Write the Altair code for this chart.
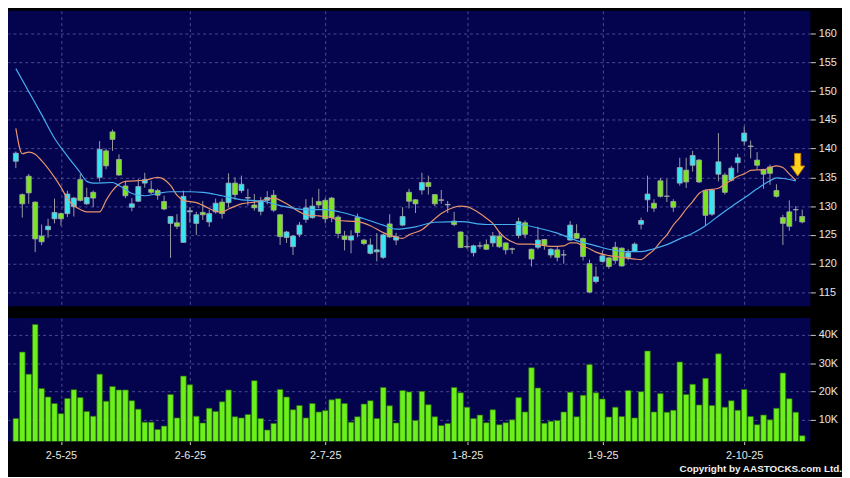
import altair as alt
import pandas as pd

# ---------------- data ----------------
opens = [137.8, 132.0, 135.2, 130.7, 124.8, 125.9, 127.8, 128.7, 128.7, 129.9,
         134.6, 130.4, 132.4, 135.0, 139.6, 142.9, 138.1, 133.5, 129.8, 130.85,
         134.0, 132.9, 132.7, 130.8, 127.0, 127.1, 123.7, 129.0, 127.0, 128.9,
         127.25, 129.0, 130.7, 130.6, 134.0, 132.7, 131.5, 130.2, 129.1, 131.0,
         131.9, 128.5, 124.55, 122.95, 125.1, 127.7, 128.0, 130.8, 131.0, 131.4,
         128.1, 124.8, 124.1, 128.0, 124.1, 121.8, 122.05, 121.1, 126.9, 124.1,
         126.7, 132.4, 131.1, 132.8, 134.1, 132.0, 131.1, 130.3, 127.4, 125.5,
         123.0, 121.9, 123.05, 123.3, 123.6, 124.8, 123.6, 122.6, 124.9, 127.1,
         122.5, 122.85, 124.2, 121.5, 122.4, 121.55, 124.1, 125.25, 124.4, 120.0,
         116.9, 120.4, 121.0, 122.85, 122.7, 121.1, 122.1, 126.85, 131.1, 130.5,
         134.4, 131.7, 130.8, 134.0, 136.25, 137.1, 138.0, 132.7, 128.6, 135.55,
         135.4, 134.5, 137.55, 141.3, 140.45, 138.0, 136.35, 136.8, 132.7, 128.0,
         129.0, 129.4, 128.2]
highs = [139.5, 132.2, 135.6, 130.8, 126.8, 127.8, 131.3, 128.9, 132.7, 131.6,
         135.6, 133.2, 132.7, 141.3, 140.0, 143.3, 139.0, 134.4, 131.4, 134.7,
         135.8, 134.4, 133.0, 131.8, 128.3, 128.6, 132.7, 129.8, 129.0, 130.9,
         129.4, 131.3, 131.3, 135.7, 135.0, 135.3, 133.0, 132.1, 131.6, 132.6,
         132.8, 128.6, 125.7, 125.0, 127.25, 131.2, 131.5, 133.0, 131.4, 131.6,
         128.4, 125.7, 125.8, 128.7, 124.3, 124.4, 125.3, 125.2, 128.6, 125.35,
         129.8, 133.0, 131.2, 135.8, 135.3, 132.1, 132.8, 130.9, 129.0, 125.6,
         125.0, 123.3, 123.8, 124.2, 125.5, 125.5, 123.7, 122.8, 128.0, 127.5,
         122.6, 126.4, 124.3, 122.7, 122.95, 122.4, 127.4, 126.85, 124.5, 120.7,
         119.5, 122.3, 121.1, 123.8, 122.8, 122.5, 123.7, 128.0, 135.3, 131.2,
         134.9, 134.7, 131.2, 138.4, 138.4, 139.6, 138.2, 132.9, 133.0, 142.7,
         135.8, 137.0, 139.1, 143.85, 141.4, 139.4, 136.5, 137.2, 133.8, 128.5,
         131.0, 130.0, 129.4]
lows = [136.6, 128.0, 130.4, 122.0, 123.2, 124.5, 127.0, 126.6, 128.1, 128.2,
        130.8, 130.2, 129.8, 134.3, 136.4, 139.6, 135.3, 131.4, 129.1, 130.7,
        133.2, 132.1, 131.1, 129.3, 121.0, 126.0, 123.6, 127.1, 125.0, 127.6,
        126.4, 128.7, 127.8, 129.8, 131.1, 132.3, 130.1, 129.2, 128.4, 130.3,
        129.0, 123.25, 123.6, 121.5, 124.6, 127.1, 127.8, 129.6, 127.0, 127.2,
        124.4, 122.3, 121.8, 124.6, 123.2, 121.6, 120.4, 120.8, 124.5, 123.25,
        126.5, 129.6, 128.8, 132.0, 132.0, 130.0, 130.4, 128.8, 126.5, 122.7,
        122.6, 121.25, 122.6, 122.4, 122.9, 122.7, 121.6, 121.7, 124.4, 124.4,
        119.5, 122.5, 122.4, 121.0, 120.4, 120.0, 124.0, 124.3, 120.55, 114.9,
        116.55, 120.2, 119.1, 120.0, 119.5, 120.6, 122.0, 125.95, 129.0, 129.0,
        131.5, 130.7, 129.0, 133.55, 133.15, 136.0, 134.0, 126.7, 128.3, 134.3,
        132.0, 134.3, 135.8, 140.5, 138.3, 136.4, 133.0, 133.7, 131.5, 123.25,
        125.7, 127.4, 127.0]
closes = [139.2, 130.4, 132.3, 124.3, 123.8, 126.5, 128.9, 127.8, 132.1, 131.4,
          131.0, 131.5, 131.4, 139.85, 137.0, 141.6, 135.4, 131.8, 130.4, 133.4,
          134.6, 132.4, 131.9, 129.5, 128.2, 126.5, 131.7, 129.2, 128.5, 128.5,
          128.7, 130.5, 128.7, 134.0, 132.0, 133.8, 131.4, 129.7, 130.85, 131.5,
          129.3, 124.7, 125.5, 124.8, 126.7, 129.7, 130.0, 130.2, 127.8, 128.0,
          125.25, 124.2, 124.8, 125.4, 123.5, 123.25, 122.4, 125.0, 124.65, 124.7,
          128.2, 130.85, 130.4, 134.1, 133.4, 130.4, 131.0, 130.2, 126.8, 122.8,
          122.9, 123.1, 123.1, 122.5, 124.8, 122.95, 122.4, 122.5, 127.3, 125.1,
          120.8, 124.1, 123.25, 122.5, 121.1, 121.5, 126.7, 124.4, 121.25, 115.05,
          117.7, 121.35, 119.5, 120.55, 119.6, 121.9, 123.4, 127.5, 132.1, 129.65,
          131.7, 131.75, 129.8, 136.7, 134.2, 138.8, 134.2, 128.4, 132.8, 137.7,
          132.4, 136.6, 138.4, 142.7, 140.35, 137.1, 135.55, 135.7, 131.7, 127.0,
          126.5, 129.35, 127.25]
volumes_k = [10.4, 33.9, 26.1, 43.7, 21.0, 18.0, 15.7, 12.1, 17.5, 20.6,
             17.8, 12.9, 11.2, 26.1, 16.5, 21.7, 20.5, 20.5, 16.7, 13.7,
             9.1, 9.1, 6.5, 7.7, 18.9, 10.6, 25.4, 22.3, 11.2, 8.8,
             14.0, 12.9, 16.3, 20.5, 11.0, 10.6, 11.8, 23.8, 10.4, 6.3,
             8.6, 20.7, 18.0, 13.5, 15.0, 10.6, 15.7, 12.7, 13.2, 17.0,
             17.4, 15.7, 9.1, 11.0, 15.5, 16.7, 10.4, 21.4, 14.9, 8.8,
             20.3, 19.8, 9.7, 20.0, 15.3, 11.0, 7.9, 8.6, 21.4, 19.5,
             14.4, 10.4, 11.6, 8.9, 13.5, 8.2, 8.9, 9.9, 17.8, 12.7,
             28.4, 21.2, 8.7, 9.4, 9.7, 12.7, 19.7, 11.0, 18.6, 29.5,
             19.5, 17.3, 10.9, 14.4, 11.1, 20.3, 10.6, 19.9, 34.3, 12.7,
             19.2, 12.6, 13.3, 30.4, 18.9, 22.5, 15.2, 24.6, 15.0, 33.3,
             14.4, 16.7, 13.3, 20.7, 11.1, 8.2, 11.6, 9.9, 14.0, 26.5,
             17.4, 12.6, 4.3]

ma_short_idx = [0, 1, 2, 3, 4, 6, 7, 8, 9, 10, 11, 13, 14, 15, 16, 17, 20, 22, 24, 25,
                26, 28, 30, 31, 32, 33, 35, 37, 39, 40, 42, 44, 45, 47, 49, 50, 53, 55, 57, 59,
                60, 61, 63, 65, 66, 68, 69, 70, 71, 72, 73, 74, 75, 76, 77, 78, 80, 81, 83, 85,
                86, 87, 88, 89, 90, 92, 94, 96, 97, 98, 99, 100, 101, 102, 103, 104, 105, 106, 107, 108,
                109, 110, 111, 112, 113, 114, 115, 116, 117, 118, 119, 120, 121]
ma_short_val = [143.5, 139.1, 139.4, 139.0, 137.9, 135.0, 133.3, 131.3, 130.1, 129.4, 129.0, 129.0, 131.0, 132.7, 133.8, 134.3, 134.5, 135.0, 133.6, 131.9,
                131.0, 130.6, 129.6, 129.1, 129.0, 129.5, 130.4, 130.7, 131.2, 131.4, 130.4, 129.0, 128.5, 128.3, 128.0, 127.5, 127.3, 126.6, 125.4, 124.6,
                124.4, 125.0, 125.9, 127.8, 128.7, 129.8, 130.0, 129.9, 129.4, 128.7, 127.9, 127.0, 125.5, 124.4, 123.8, 123.4, 123.4, 123.3, 123.0, 123.1,
                123.6, 123.6, 123.0, 122.6, 122.0, 121.4, 121.1, 120.8, 120.7, 121.5, 122.4, 123.8, 125.0, 126.7, 128.0, 129.5, 130.8, 132.2, 132.8, 132.9,
                133.1, 133.8, 134.5, 135.2, 135.6, 136.2, 136.3, 136.3, 136.7, 137.0, 136.7, 135.6, 134.5]
ma_long_idx = [0, 2, 4, 6, 8, 10, 11, 12, 15, 16, 18, 20, 22, 24, 27, 29, 32, 35, 38, 41,
               45, 48, 51, 54, 57, 59, 62, 65, 69, 73, 78, 81, 84, 87, 90, 92, 95, 97, 99, 101,
               103, 105, 107, 109, 111, 113, 115, 117, 118, 119, 121]
ma_long_val = [153.9, 149.9, 145.9, 141.8, 138.7, 135.8, 134.3, 134.0, 134.1, 133.6, 132.2, 131.8, 132.2, 132.5, 132.5, 132.4, 131.8, 131.1, 130.9, 130.1,
               129.4, 129.4, 128.8, 127.8, 126.7, 126.0, 126.4, 127.2, 127.3, 126.8, 126.8, 126.2, 125.3, 124.0, 123.1, 122.5, 122.1, 122.1, 122.6, 123.3,
               124.3, 125.3, 126.6, 128.3, 129.9, 131.4, 133.0, 134.4, 134.9, 134.8, 134.4]

tick_idx = [7, 27, 48, 70, 91, 113]
tick_labels = ["2-5-25", "2-6-25", "2-7-25", "1-8-25", "1-9-25", "2-10-25"]
price_ticks = [115, 120, 125, 130, 135, 140, 145, 150, 155, 160]
vol_ticks = [10, 20, 30, 40]
arrow_point = [121.3, 137.2]
copyright_text = ["Copyright by AASTOCKS.com Ltd."]

# ---------------- tables ----------------
n = len(opens)
df = pd.DataFrame({"i": list(range(n)), "open": opens, "high": highs, "low": lows,
                   "close": closes, "vol": volumes_k})
df["dir"] = ["up" if c >= o else "down" for o, c in zip(opens, closes)]
VOL_MIN = 2.2
df["base"] = VOL_MIN
ma_s = pd.DataFrame({"i": ma_short_idx, "val": ma_short_val})
ma_l = pd.DataFrame({"i": ma_long_idx, "val": ma_long_val})
arrow_df = pd.DataFrame({"i": [arrow_point[0]], "val": [arrow_point[1]]})
copy_df = pd.DataFrame({"t": copyright_text})

# ---------------- scales / axes ----------------
XDOM = [-0.45, 122.5]
W = 812
xs = alt.Scale(domain=XDOM, nice=False, zero=False)
ys_price = alt.Scale(domain=[112.6, 163.95], nice=False, zero=False)
ys_vol = alt.Scale(domain=[VOL_MIN, 45.95], nice=False, zero=False)

x_axis_top = alt.Axis(values=tick_idx, labels=False, ticks=False, domain=False,
                      grid=True, title=None)
label_expr = " : ".join(f"datum.value == {v} ? '{t}'" for v, t in zip(tick_idx, tick_labels)) + " : ''"
x_axis_bottom = alt.Axis(values=tick_idx, labelExpr=label_expr, ticks=True, tickSize=3,
                         labelPadding=5, domain=False, grid=True, title=None,
                         labelFlush=False)
y_axis_price = alt.Axis(orient="right", values=price_ticks, title=None, tickSize=5,
                        labelPadding=3, domain=False, grid=True)
y_axis_vol = alt.Axis(orient="right", values=vol_ticks, title=None, tickSize=5,
                      labelPadding=3, domain=False, grid=True,
                      labelExpr="datum.value + 'K'")

base = alt.Chart(df)
color_scale = alt.Scale(domain=["up", "down"], range=["#36e4f2", "#7ce423"])

wicks = base.mark_rule(color="#9c9ca4", strokeWidth=1).encode(
    x=alt.X("i:Q", scale=xs, axis=x_axis_top),
    y=alt.Y("low:Q", scale=ys_price, axis=y_axis_price),
    y2="high:Q",
)
bodies = base.mark_bar(size=5, stroke="#a8a8b0", strokeWidth=0.8).encode(
    x=alt.X("i:Q", scale=xs, axis=x_axis_top),
    y=alt.Y("open:Q", scale=ys_price, axis=y_axis_price),
    y2="close:Q",
    color=alt.Color("dir:N", scale=color_scale, legend=None),
)
line_s = alt.Chart(ma_s).mark_line(color="#e8946a", strokeWidth=1.2,
                                   interpolate="monotone", clip=True).encode(
    x=alt.X("i:Q", scale=xs, axis=x_axis_top),
    y=alt.Y("val:Q", scale=ys_price, axis=y_axis_price),
)
line_l = alt.Chart(ma_l).mark_line(color="#46aef0", strokeWidth=1.2,
                                   interpolate="monotone", clip=True).encode(
    x=alt.X("i:Q", scale=xs, axis=x_axis_top),
    y=alt.Y("val:Q", scale=ys_price, axis=y_axis_price),
)
arrow = alt.Chart(arrow_df).mark_point(
    shape="M-0.27,-1 L0.27,-1 L0.27,0.12 L0.62,0.12 L0,1 L-0.62,0.12 L-0.27,0.12 Z",
    size=520, filled=True, fill="#ffd21c", stroke="#c88200", strokeWidth=1, opacity=1,
).encode(
    x=alt.X("i:Q", scale=xs, axis=x_axis_top),
    y=alt.Y("val:Q", scale=ys_price, axis=y_axis_price),
)

price = alt.layer(wicks, bodies, line_s, line_l, arrow).properties(width=W, height=299)

vol_bars = base.mark_bar(size=5.6, color="#6cf01c", stroke="#2c6a10", strokeWidth=0.7,
                         clip=True).encode(
    x=alt.X("i:Q", scale=xs, axis=x_axis_bottom),
    y=alt.Y("vol:Q", scale=ys_vol, axis=y_axis_vol),
    y2="base:Q",
)
copyright_mark = alt.Chart(copy_df).mark_text(
    align="right", baseline="middle", font="Liberation Sans", fontSize=10,
    fontWeight="bold", color="#f0f0f0",
).encode(text="t:N", x=alt.value(844), y=alt.value(153))

volume = alt.layer(vol_bars, copyright_mark).properties(width=W, height=125)

chart = alt.vconcat(price, volume, spacing=12).properties(
    padding=0, background="#000000"
).configure_view(
    fill="#03034e", stroke=None
).configure_axis(
    labelFont="Liberation Sans", labelFontSize=11, labelColor="#e6e6e6",
    tickColor="#d0d0d0", gridColor="#5a5aa0", gridDash=[3, 3], gridWidth=1,
    gridOpacity=0.85,
)

chart.save("out.html", embed_options={"renderer": "svg", "actions": False})
